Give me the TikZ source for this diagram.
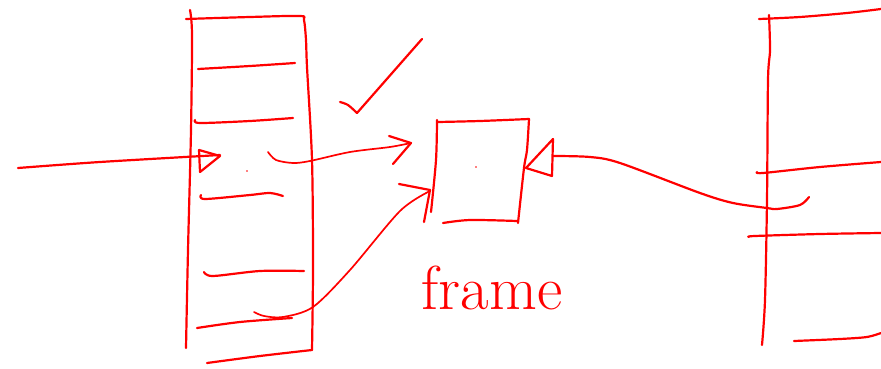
\documentclass[tikz,border=0pt]{standalone}
\usepackage{tikz}
\definecolor{ink}{RGB}{255,0,0}
\tikzset{
  pen/.style={draw=ink, line width=2.2pt, line cap=round, line join=round},
  thinpen/.style={draw=ink, line width=1.7pt, line cap=round, line join=round},
}
\begin{document}
\begin{tikzpicture}[x=1pt, y=-1pt]
  \fill[white] (0,0) rectangle (881,369);
  \useasboundingbox (0,0) rectangle (881,369);

  % left stack: outline
  \draw[pen] plot[smooth] coordinates {(190,10) (192,35) (191,130) (188,250) (186,348)};
  \draw[pen] plot[smooth] coordinates {(186,19) (250,17) (300,16) (304,20) (306,40) (307,67) (312,160) (313,267) (312,350)};
  \draw[pen] plot[smooth] coordinates {(312,350) (260,356) (207,363)};
  % left stack: slot lines
  \draw[pen] plot[smooth] coordinates {(198,69) (250,66) (295,63)};
  \draw[pen] plot[smooth] coordinates {(195,120) (200,123) (250,121) (293,118)};
  \draw[pen] plot[smooth] coordinates {(201,195) (205,199) (250,195) (270,193) (283,196)};
  \draw[pen] plot[smooth] coordinates {(204,272) (213,276) (260,271) (304,271)};
  \draw[pen] plot[smooth] coordinates {(197,328) (240,322) (292,318)};
  \fill[ink] (247,171) circle (0.9);

  % incoming arrow into the stack
  \draw[pen] plot[smooth] coordinates {(18,168) (100,162) (220,155)};
  \draw[pen] (199,150) -- (220,156) -- (200,172) -- cycle;

  % check mark
  \draw[pen] plot[smooth] coordinates {(340,102) (348,105) (357,113)};
  \draw[pen] (357,113) -- (422,39);

  % frame box
  \draw[pen] plot[smooth] coordinates {(437,120) (436,160) (431,212)};
  \draw[pen] plot[smooth] coordinates {(438,122) (480,121) (529,119)};
  \draw[pen] plot[smooth] coordinates {(529,119) (527,150) (524,168) (518,223)};
  \draw[pen] plot[smooth] coordinates {(443,223) (470,220) (517,221)};
  \fill[ink] (476,167) circle (0.9);

  % connector from middle slot to frame
  \draw[thinpen] plot[smooth] coordinates {(268,152) (276,160) (293,163) (310,161) (350,152) (390,147) (411,143)};
  \draw[pen] (389,136) -- (411,143) -- (393,164);

  % connector from lower slot to frame
  \draw[thinpen] plot[smooth] coordinates {(254,312) (264,316) (283,317) (313,307) (350,270) (400,211) (430,191)};
  \draw[pen] (399,184) -- (430,190);
  \draw[pen] (424,222) -- (430,190);

  % label
  \node[text=ink, font=\fontsize{62}{62}\selectfont, anchor=base, inner sep=0pt] at (492,309) {frame};

  % connector from right stack to frame
  \draw[pen] plot[smooth] coordinates {(809,197) (800,205) (777,209) (767,208) (733,203) (700,193) (620,163) (590,157) (553,156)};
  \draw[pen] (553,139) -- (526,168) -- (552,176) -- cycle;

  % right stack
  \draw[pen] plot[smooth] coordinates {(769,15) (770,50) (768,80) (767,200) (765,300) (762,345)};
  \draw[pen] plot[smooth] coordinates {(759,19) (800,17) (847,13) (881,9)};
  \draw[pen] plot[smooth] coordinates {(757,172) (763,173) (820,167) (881,162)};
  \draw[pen] plot[smooth] coordinates {(749,237) (755,236) (820,234) (881,233)};
  \draw[pen] plot[smooth] coordinates {(794,341) (840,339) (867,337) (881,333)};
\end{tikzpicture}
\end{document}
